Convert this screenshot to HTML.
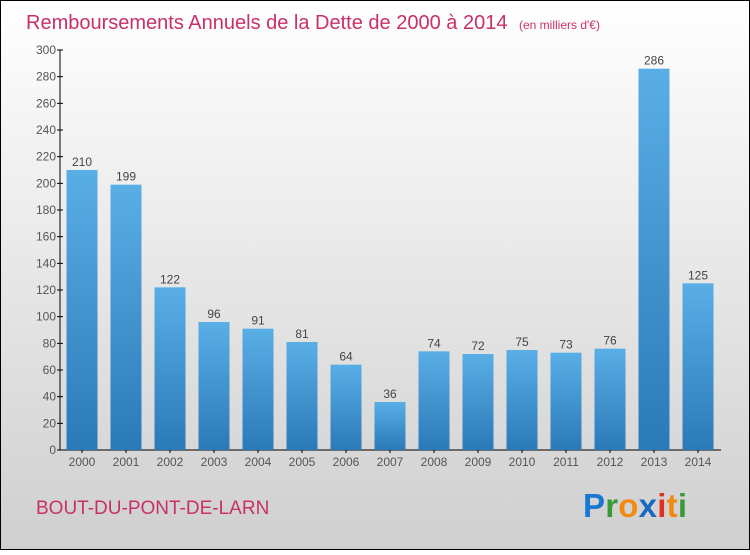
<!DOCTYPE html>
<html><head><meta charset="utf-8"><style>
body{margin:0}
svg text{font-family:"Liberation Sans",sans-serif}
</style></head><body>
<svg id="c" width="750" height="550" xmlns="http://www.w3.org/2000/svg">
<defs>
<linearGradient id="bg" x1="0" y1="0" x2="0" y2="1"><stop offset="0" stop-color="#ffffff"/><stop offset="1" stop-color="#cfcfcf"/></linearGradient>
<linearGradient id="bar" x1="0" y1="0" x2="0" y2="1"><stop offset="0" stop-color="#5aaee6"/><stop offset="1" stop-color="#2a7ab8"/></linearGradient>
</defs>
<rect x="0.5" y="0.5" width="749" height="549" fill="url(#bg)" stroke="#000"/>
<text x="26" y="29" font-size="20" fill="#c8306a">Remboursements Annuels de la Dette de 2000 à 2014 <tspan font-size="12" dx="6">(en milliers d'€)</tspan></text>
<g id="yaxis"></g>
<g id="bars"></g>
<text x="36" y="514" font-size="19" fill="#c8306a">BOUT-DU-PONT-DE-LARN</text>
<g font-size="33" font-weight="bold">
<text x="583" y="517" fill="#1a78d0" textLength="104">P<tspan fill="#3a9a3a">r</tspan><tspan fill="#f08a10">o</tspan><tspan fill="#1a68c0">x</tspan><tspan fill="#e03020">i</tspan><tspan fill="#f08a10">t</tspan><tspan fill="#3a9a3a">i</tspan></text>
</g>
</svg>
<script>
const categories=["2000","2001","2002","2003","2004","2005","2006","2007","2008","2009","2010","2011","2012","2013","2014"];
const values=[210,199,122,96,91,81,64,36,74,72,75,73,76,286,125];
const yTicks=[0,20,40,60,80,100,120,140,160,180,200,220,240,260,280,300];
const NS="http://www.w3.org/2000/svg";
const y=v=>450-v*400/300;
const x=i=>82+i*44;
function mk(t,a,p){const e=document.createElementNS(NS,t);for(const k in a)e.setAttribute(k,a[k]);p.appendChild(e);return e;}
const ya=document.getElementById('yaxis');
mk('line',{x1:60,y1:50,x2:60,y2:450,stroke:'#000'},ya);
mk('line',{x1:60,y1:450,x2:721,y2:450,stroke:'#000'},ya);
yTicks.forEach(v=>{
 const l=mk('line',{x1:57,x2:63,y1:y(v),y2:y(v),stroke:'#000'},ya);
 
 
 const t=mk('text',{x:56,y:y(v)+4,'font-size':12,'text-anchor':'end',fill:'#555'},ya);
 t.textContent=v;
 
 
});
const bg=document.getElementById('bars');
categories.forEach((c,i)=>{
 const r=mk('rect',{x:x(i)-15.5,y:y(values[i]),width:31,height:450-y(values[i]),fill:'url(#bar)'},bg);
 
 
 const vl=mk('text',{x:x(i),y:y(values[i])-4,'font-size':12,'text-anchor':'middle',fill:'#444'},bg);
 vl.textContent=values[i];
 
 
 const tl=mk('text',{x:x(i),y:466,'font-size':12,'text-anchor':'middle',fill:'#555'},bg);
 tl.textContent=c;
 
 
 const tk=mk('line',{x1:x(i),x2:x(i),y1:450,y2:453,stroke:'#000'},bg);
 
 
});
</script>
</body></html>
